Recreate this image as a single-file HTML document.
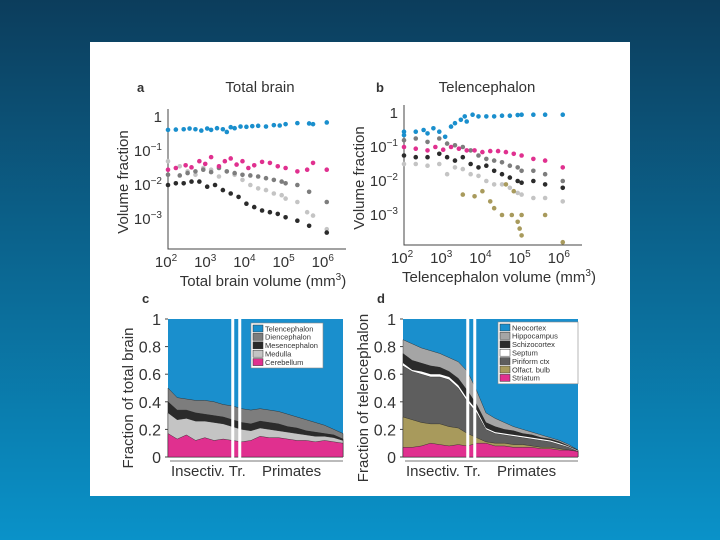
<!DOCTYPE html>
<html><head><meta charset="utf-8"><style>
html,body{margin:0;padding:0;width:720px;height:540px;overflow:hidden;background:linear-gradient(#0c3d5c,#0a92c9);}
svg{position:absolute;left:0;top:0}
text{font-family:"Liberation Sans",sans-serif;fill:#333}
</style></head><body>
<svg id="fig" width="720" height="540">
<rect x="90" y="42" width="540" height="454" fill="#fff"/>
<g id="ga"></g>
<g id="gb"></g>
<g id="gc"></g>
<g id="gd"></g>
</svg>
<script>
// ---- Panel a data (log10 volume, log10 fraction)
const aTelX=[2,2.2,2.4,2.55,2.7,2.85,3,3.1,3.25,3.4,3.5,3.6,3.7,3.85,4,4.15,4.3,4.5,4.7,4.85,5,5.3,5.6,5.7,6.05];
const aTelY=[-0.38,-0.37,-0.36,-0.34,-0.36,-0.40,-0.34,-0.38,-0.33,-0.36,-0.44,-0.30,-0.33,-0.28,-0.29,-0.27,-0.26,-0.28,-0.24,-0.25,-0.21,-0.18,-0.19,-0.21,-0.16];
const aCerX=[2,2.2,2.45,2.6,2.8,2.95,3.1,3.3,3.45,3.6,3.75,3.9,4.05,4.2,4.4,4.6,4.8,5,5.3,5.55,5.7,6.05];
const aCerY=[-1.55,-1.5,-1.42,-1.48,-1.3,-1.38,-1.18,-1.45,-1.3,-1.22,-1.4,-1.3,-1.5,-1.42,-1.32,-1.35,-1.45,-1.5,-1.6,-1.55,-1.35,-1.55];
const aDieX=[2,2.3,2.5,2.7,2.9,3.1,3.3,3.5,3.7,3.9,4.1,4.3,4.5,4.7,4.9,5,5.3,5.6,6.05];
const aDieY=[-1.7,-1.72,-1.65,-1.6,-1.55,-1.62,-1.5,-1.6,-1.65,-1.7,-1.72,-1.75,-1.8,-1.85,-1.9,-1.95,-2.0,-2.2,-2.5];
const aMedX=[2,2.3,2.5,2.7,2.9,3.1,3.3,3.5,3.7,3.9,4.1,4.3,4.5,4.7,4.9,5,5.3,5.55,5.7,6.05];
const aMedY=[-1.3,-1.45,-1.6,-1.7,-1.5,-1.55,-1.75,-1.6,-1.7,-1.85,-2.0,-2.1,-2.15,-2.25,-2.3,-2.4,-2.5,-2.8,-2.9,-3.3];
const aMesX=[2,2.2,2.4,2.6,2.8,3,3.2,3.4,3.6,3.8,4,4.2,4.4,4.6,4.8,5,5.3,5.6,6.05];
const aMesY=[-2.0,-1.95,-1.95,-1.9,-1.9,-2.05,-2.0,-2.15,-2.25,-2.35,-2.55,-2.65,-2.75,-2.8,-2.85,-2.95,-3.05,-3.2,-3.4];
// ---- Panel b data
const bTelX=[2,2,2.3,2.5,2.6,2.75,2.9,3.05,3.2,3.3,3.45,3.55,3.6,3.75,3.9,4.1,4.3,4.5,4.7,4.9,5,5.3,5.6,6.05];
const bTelY=[-0.55,-0.65,-0.55,-0.5,-0.6,-0.45,-0.55,-0.7,-0.4,-0.3,-0.2,-0.1,-0.25,-0.05,-0.1,-0.1,-0.1,-0.08,-0.08,-0.06,-0.05,-0.05,-0.05,-0.05];
const bCerX=[2,2.3,2.6,2.8,3,3.2,3.4,3.6,3.8,4,4.2,4.4,4.6,4.8,5,5.3,5.6,6.05];
const bCerY=[-1.0,-1.05,-1.1,-1.0,-1.08,-1.0,-1.05,-1.1,-1.1,-1.15,-1.12,-1.12,-1.15,-1.2,-1.25,-1.35,-1.4,-1.6];
const bDieX=[2,2.3,2.6,2.9,3.1,3.3,3.5,3.7,3.9,4.1,4.3,4.5,4.7,4.9,5,5.3,5.6,6.05];
const bDieY=[-0.8,-0.75,-0.85,-0.75,-0.9,-0.95,-1.0,-1.1,-1.25,-1.35,-1.4,-1.45,-1.55,-1.6,-1.7,-1.7,-1.8,-2.0];
const bMesX=[2,2.3,2.6,2.9,3.1,3.3,3.5,3.7,3.9,4.1,4.3,4.5,4.7,4.9,5,5.3,5.6,6.05];
const bMesY=[-1.25,-1.3,-1.3,-1.2,-1.3,-1.4,-1.3,-1.5,-1.6,-1.55,-1.7,-1.8,-1.9,-2.0,-2.05,-2.0,-2.1,-2.2];
const bMedX=[2,2.3,2.6,2.9,3.1,3.3,3.5,3.7,3.9,4.1,4.3,4.5,4.7,4.9,5,5.3,5.6,6.05];
const bMedY=[-1.5,-1.5,-1.55,-1.5,-1.8,-1.6,-1.65,-1.8,-1.85,-2.0,-2.1,-2.1,-2.2,-2.35,-2.4,-2.5,-2.5,-2.6];
const bOlfX=[3.5,3.8,4.0,4.2,4.3,4.5,4.6,4.75,4.8,4.9,4.95,5.0,5.0,5.6,6.05];
const bOlfY=[-2.4,-2.45,-2.3,-2.6,-2.8,-3.0,-2.1,-3.0,-2.3,-3.2,-3.4,-3.0,-3.6,-3.0,-3.8];
// ---- Panel c data (cumulative upper boundaries)
const cCer=[0.17,0.13,0.16,0.12,0.14,0.12,0.13,0.12,0.11,0.12,0.15,0.14,0.14,0.13,0.12,0.12,0.11,0.12,0.11,0.10];
const cMed=[0.32,0.27,0.28,0.26,0.26,0.25,0.24,0.22,0.20,0.19,0.21,0.20,0.19,0.18,0.17,0.16,0.15,0.15,0.14,0.12];
const cMes=[0.40,0.34,0.34,0.32,0.31,0.30,0.29,0.27,0.25,0.24,0.26,0.25,0.24,0.22,0.21,0.19,0.18,0.17,0.16,0.13];
const cDie=[0.50,0.43,0.42,0.41,0.41,0.40,0.38,0.37,0.35,0.34,0.35,0.34,0.33,0.31,0.29,0.27,0.25,0.23,0.20,0.17];
// ---- Panel d data (cumulative upper boundaries)
const dStr=[0.07,0.07,0.08,0.10,0.09,0.08,0.09,0.08,0.10,0.10,0.08,0.08,0.07,0.07,0.07,0.06,0.06,0.05,0.05,0.04];
const dOlf=[0.29,0.27,0.25,0.24,0.24,0.22,0.21,0.17,0.14,0.11,0.10,0.10,0.09,0.09,0.08,0.07,0.07,0.06,0.05,0.04];
const dPir=[0.66,0.62,0.60,0.58,0.58,0.56,0.50,0.40,0.32,0.20,0.17,0.16,0.15,0.14,0.13,0.12,0.11,0.09,0.07,0.04];
const dSep=[0.68,0.63,0.62,0.60,0.60,0.58,0.52,0.42,0.34,0.21,0.18,0.17,0.16,0.15,0.14,0.13,0.12,0.10,0.075,0.045];
const dSch=[0.75,0.70,0.68,0.66,0.65,0.62,0.57,0.48,0.38,0.25,0.22,0.20,0.19,0.17,0.16,0.14,0.13,0.11,0.08,0.05];
const dHip=[0.85,0.82,0.79,0.77,0.75,0.72,0.69,0.62,0.48,0.32,0.28,0.25,0.22,0.20,0.18,0.16,0.14,0.12,0.09,0.05];
const fracTicks=["0","0.2","0.4","0.6","0.8","1"];
const logXTicks=[2,3,4,5,6];
const logYTicks=[0,-1,-2,-3];

const NS="http://www.w3.org/2000/svg";
function mk(p,tag,at,txt){const e=document.createElementNS(NS,tag);for(const k in at)e.setAttribute(k,at[k]);if(txt!==undefined)e.textContent=txt;p.appendChild(e);return e;}
const BLUE="#1a8fcd",PINK="#e0308f",GRAY="#7d7d7d",DARK="#2b2b2b",LGRAY="#c4c4c4",OLIVE="#a89a5c";

function scatterPanel(g,x0,y0,title,xlab,series,letter,lx,tx){
  const X=v=>x0+(v-2)*39.2, Y=v=>y0-v*34;
  const t1=mk(g,'text',{x:lx,y:92,'font-size':13,'font-weight':'bold',fill:'#222'},letter);
  
  
  const t2=mk(g,'text',{x:tx,y:92,'font-size':15,'text-anchor':'middle'},title);
  
  
  const ax=mk(g,'path',{d:`M${x0},${y0-8}V${y0+132}H${x0+178}`,stroke:'#444',fill:'none','stroke-width':1});
  
  
  logXTicks.forEach(k=>{
    const t=mk(g,'text',{x:X(k)-2,y:y0+150,'font-size':15,'text-anchor':'middle'});
    
    
    mk(t,'tspan',{},'10');mk(t,'tspan',{dy:-6,'font-size':10},String(k));
  });
  logYTicks.forEach(k=>{
    const t=mk(g,'text',{x:x0-6,y:Y(k)+5,'font-size':15,'text-anchor':'end'});
    
    
    if(k===0){t.textContent='1';}else{mk(t,'tspan',{},'10');mk(t,'tspan',{dy:-6,'font-size':10},'\u2212'+(-k));}
  });
  const xl=mk(g,'text',{x:x0+95,y:y0+169,'font-size':15,'text-anchor':'middle'});
  
  
  mk(xl,'tspan',{},xlab+' (mm');mk(xl,'tspan',{dy:-6,'font-size':10},'3');mk(xl,'tspan',{dy:6},')');
  const yl=mk(g,'text',{transform:`translate(${x0-40},${y0+65}) rotate(-90)`,'font-size':15,'text-anchor':'middle'},'Volume fraction');
  
  
  series.forEach(([xs,ys,c,name])=>{
    const sg=mk(g,'g',{});
    
    
    xs.forEach((v,i)=>{
      const d=mk(sg,'circle',{cx:X(v),cy:Y(ys[i]),r:2.3,fill:c});
      
      
    });
  });
}
scatterPanel(document.getElementById('ga'),168,117,'Total brain','Total brain volume',
 [[aMedX,aMedY,LGRAY,'series-medulla'],[aDieX,aDieY,GRAY,'series-diencephalon'],[aMesX,aMesY,DARK,'series-mesencephalon'],[aCerX,aCerY,PINK,'series-cerebellum'],[aTelX,aTelY,BLUE,'series-telencephalon']],'a',137,260);
scatterPanel(document.getElementById('gb'),404,113,'Telencephalon','Telencephalon volume',
 [[bMedX,bMedY,LGRAY,'series-septum'],[bOlfX,bOlfY,OLIVE,'series-olfactory'],[bDieX,bDieY,GRAY,'series-hippocampus'],[bMesX,bMesY,DARK,'series-schizocortex'],[bCerX,bCerY,PINK,'series-striatum'],[bTelX,bTelY,BLUE,'series-neocortex']],'b',376,487);

function areaPanel(g,x0,x1,letter,ylab,layers,legend,gapA,gapB,legBox){
  const y0=457,y1=319,N=layers[0][0].length;
  const X=i=>x0+i*(x1-x0)/(N-1), Y=v=>y0-v*(y0-y1);
  const t1=mk(g,'text',{x:x0-26,y:303,'font-size':13,'font-weight':'bold',fill:'#222'},letter);
  
  
  const bg=mk(g,'rect',{x:x0,y:y1,width:x1-x0,height:y0-y1,fill:BLUE});
  
  
  layers.slice().reverse().forEach(([arr,c,name])=>{
    let d=`M${X(0)},${y0}`;arr.forEach((v,i)=>d+=`L${X(i)},${Y(v)}`);d+=`L${X(N-1)},${y0}Z`;
    const p=mk(g,'path',{d,fill:c,stroke:c==='#fff'?'none':'#222','stroke-width':0.4});
    
    
  });
  [gapA,gapB].forEach(f=>{
    const l=mk(g,'rect',{x:x0+f*(x1-x0)-1.5,y:y1,width:3,height:y0-y1+4,fill:'#fff'});
    
    
  });
  fracTicks.forEach((s,i)=>{
    const t=mk(g,'text',{x:x0-7,y:Y(i*0.2)+6,'font-size':16,'text-anchor':'end'},s);
    
    
    mk(g,'line',{x1:x0-3,x2:x0,y1:Y(i*0.2),y2:Y(i*0.2),stroke:'#444'});
  });
  const gb=mk(g,'rect',{x:x0+2,y:y0+3,width:x1-x0-2,height:2,fill:'#bbb'});
  
  
  const g1=mk(g,'text',{x:x0+3,y:476,'font-size':15},'Insectiv. Tr.');
  
  
  const g2=mk(g,'text',{x:x0+94,y:476,'font-size':15},'Primates');
  
  
  const yl=mk(g,'text',{transform:`translate(${x0-35},${(y0+y1)/2+10}) rotate(-90)`,'font-size':15,'text-anchor':'middle'},ylab);
  
  
  const lg=mk(g,'g',{});
  
  
  mk(lg,'rect',{x:legBox[0],y:legBox[1],width:legBox[2],height:legend.length*8.4+3,fill:'#fff',stroke:'#888','stroke-width':0.6});
  legend.forEach(([s,c],i)=>{
    const e=mk(lg,'g',{});
    
    
    mk(e,'rect',{x:legBox[0]+2,y:legBox[1]+2+i*8.4,width:10,height:7,fill:c,stroke:'#333','stroke-width':0.5});
    mk(e,'text',{x:legBox[0]+14,y:legBox[1]+8.3+i*8.4,'font-size':7.5},s);
  });
}
areaPanel(document.getElementById('gc'),168,343,'c','Fraction of total brain',
 [[cCer,PINK,'area-cerebellum'],[cMed,LGRAY,'area-medulla'],[cMes,DARK,'area-mesencephalon'],[cDie,GRAY,'area-diencephalon']],
 [['Telencephalon',BLUE],['Diencephalon',GRAY],['Mesencephalon',DARK],['Medulla',LGRAY],['Cerebellum',PINK]],0.37,0.41,[251,323,72]);
areaPanel(document.getElementById('gd'),403,578,'d','Fraction of telencephalon',
 [[dStr,PINK,'area-striatum'],[dOlf,OLIVE,'area-olfactory-bulb'],[dPir,'#5e5e5e','area-piriform'],[dSep,'#fff','area-septum'],[dSch,DARK,'area-schizocortex'],[dHip,'#a5a5a5','area-hippocampus']],
 [['Neocortex',BLUE],['Hippocampus','#a5a5a5'],['Schizocortex',DARK],['Septum','#fff'],['Piriform ctx','#5e5e5e'],['Olfact. bulb',OLIVE],['Striatum',PINK]],0.37,0.41,[498,322,80]);
</script>
</body></html>
